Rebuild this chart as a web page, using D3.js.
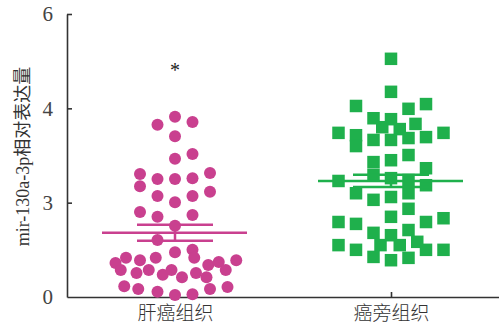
<!DOCTYPE html>
<html>
<head>
<meta charset="utf-8">
<script src="https://cdn.jsdelivr.net/npm/d3@7"></script>
<style>
  body { margin: 0; background: #fff; }
  text { font-family: "Liberation Serif", "Noto Sans CJK SC", serif; }
</style>
</head>
<body>
<svg id="chart"></svg>
<script>
// groups and tick labels
var groups = ["肝癌组织", "癌旁组织"];
var yTickValues = [0, 2, 4, 6];
var yTickLabels = ["0", "3", "4", "6"];

// 肝癌组织 points: value, jitter slot
var tumorValues = [3.82, 3.65, 3.71, 3.41, 2.93, 3.03, 2.61, 2.35, 2.50, 2.50, 2.52, 2.63,
  2.14, 2.01, 2.14, 2.23, 1.80, 1.70, 1.74, 1.51, 1.21, 0.95, 1.00,
  0.72, 0.83, 0.78, 0.83, 0.83, 0.68, 0.74, 0.78,
  0.57, 0.51, 0.57, 0.47, 0.57, 0.42, 0.51, 0.42, 0.57,
  0.23, 0.17, 0.11, 0.04, 0.06, 0.17, 0.21];
var tumorSlots = [0, -1, 1, 0, 0, 1, -2, -2, -1, 0, 1, 2,
  -1, 0, 1, 2, -2, -1, 1, 0, -1, 0, 1,
  -3.4, -2.8, -2, -1.1, 1.1, 1.9, 2.5, 3.5,
  -3.1, -2.2, -1.5, -0.7, -0.2, 0.4, 1.2, 1.8, 2.9,
  -2.9, -2.1, -1, 0, 1, 2, 3];

// 癌旁组织 points
var normalValues = [5.05, 4.35, 4.05, 3.99, 4.09, 3.79, 3.77, 3.67, 3.60, 3.56,
  3.48, 3.43, 3.20, 3.33, 3.33, 3.37, 3.39, 3.48,
  2.86, 2.90, 3.01, 2.73, 2.46, 2.59, 2.52, 2.48, 2.37,
  2.20, 2.06, 2.12, 2.20, 1.70, 1.87,
  1.59, 1.55, 1.36, 1.31, 1.42, 1.59, 1.67,
  1.10, 1.00, 1.10, 1.10, 1.17, 1.00, 1.00, 0.85, 0.78, 0.83];
var normalSlots = [0, 0, -2, 1, 2, -1, 0, 1.4, -0.5, 0.5,
  -3, -2, -2, -1, 0, 1, 2, 3,
  -1, 0, 1, 2, -3, -1, 0, 1, 2,
  -2, -1, 0, 1, 0, 1,
  -3, -2, -1, 0, 1, 2, 3,
  -3, -2, -0.6, 0.5, 1.5, 2, 3, -1, 0, 1];

// mean and SEM
var means = [1.36, 2.46];
var sems = [0.17, 0.13];
var colors = ["#c9408f", "#1fb04c"];

var width = 499, height = 331;
var margin = {top: 14, bottom: 34, left: 67, right: 0};

var svg = d3.select("#chart").attr("width", width).attr("height", height);

var x = d3.scalePoint()
  .domain(groups)
  .range([margin.left, width - margin.right])
  .padding(0.5);

var y = d3.scaleLinear()
  .domain([0, 6])
  .range([height - margin.bottom, margin.top]);

var jitter = d3.scaleLinear().domain([-1, 1]).range([-17.5, 17.5]);

// axes
var yAxis = d3.axisLeft(y)
  .tickValues(yTickValues)
  .tickFormat(function(d, i){ return yTickLabels[i]; })
  .tickSizeInner(-5)
  .tickSizeOuter(0)
  .tickPadding(14);

var gy = svg.append("g")
  .attr("transform", "translate(" + margin.left + ",0)")
  .call(yAxis);
gy.select(".domain").attr("stroke", "#333").attr("stroke-width", 1.6);
gy.selectAll(".tick line").attr("stroke", "#333").attr("stroke-width", 1.6);
gy.selectAll(".tick").filter(function(d){ return d === 0; }).select("line").remove();
gy.selectAll(".tick text").attr("font-size", 21).attr("fill", "#444")
  .style("font-family", "Liberation Serif");

var xAxis = d3.axisBottom(x)
  .tickSizeInner(-5)
  .tickSizeOuter(0)
  .tickPadding(10);

var gx = svg.append("g")
  .attr("transform", "translate(0," + y(0) + ")")
  .call(xAxis);
gx.select(".domain").attr("stroke", "#333").attr("stroke-width", 1.6);
gx.selectAll(".tick line").attr("stroke", "#333").attr("stroke-width", 1.6);
gx.selectAll(".tick text").attr("font-size", 19).attr("fill", "#333")
  .style("font-family", "Noto Sans CJK SC").style("font-weight", 300);

// y label
svg.append("text")
  .attr("transform", "translate(23," + ((margin.top + y(0)) / 2 + 1) + ") rotate(-90)")
  .attr("text-anchor", "middle")
  .attr("dominant-baseline", "central")
  .attr("font-size", 18)
  .attr("fill", "#333")
  .text("mir-130a-3p相对表达量");

// tumor circles
var tumor = tumorValues.map(function(v, i){ return {v: v, s: tumorSlots[i]}; });
svg.append("g").selectAll("circle")
  .data(tumor)
  .enter()
  .append("circle")
  .attr("cx", function(d){ return x(groups[0]) + jitter(d.s); })
  .attr("cy", function(d){ return y(d.v); })
  .attr("r", 6)
  .attr("fill", colors[0]);

// normal squares
var normal = normalValues.map(function(v, i){ return {v: v, s: normalSlots[i]}; });
var sq = 12.5;
svg.append("g").selectAll("rect")
  .data(normal)
  .enter()
  .append("rect")
  .attr("x", function(d){ return x(groups[1]) + jitter(d.s) - sq / 2; })
  .attr("y", function(d){ return y(d.v) - sq / 2; })
  .attr("width", sq)
  .attr("height", sq)
  .attr("fill", colors[1]);

// mean +- SEM lines
groups.forEach(function(g, i){
  var cx = x(g);
  var lines = svg.append("g").attr("stroke", colors[i]).attr("stroke-width", 2.5);
  lines.append("line")
    .attr("x1", cx - 73).attr("x2", cx + 72)
    .attr("y1", y(means[i])).attr("y2", y(means[i]));
  [means[i] + sems[i], means[i] - sems[i]].forEach(function(v){
    lines.append("line")
      .attr("x1", cx - 38).attr("x2", cx + 38)
      .attr("y1", y(v)).attr("y2", y(v));
  });
  lines.append("line")
    .attr("x1", cx).attr("x2", cx)
    .attr("y1", y(means[i] + sems[i])).attr("y2", y(means[i] - sems[i]));
});

// significance mark
svg.append("text")
  .attr("x", x(groups[0]))
  .attr("y", y(4.66))
  .attr("text-anchor", "middle")
  .attr("font-size", 20)
  .attr("fill", "#222")
  .text("*");
</script>
</body>
</html>
